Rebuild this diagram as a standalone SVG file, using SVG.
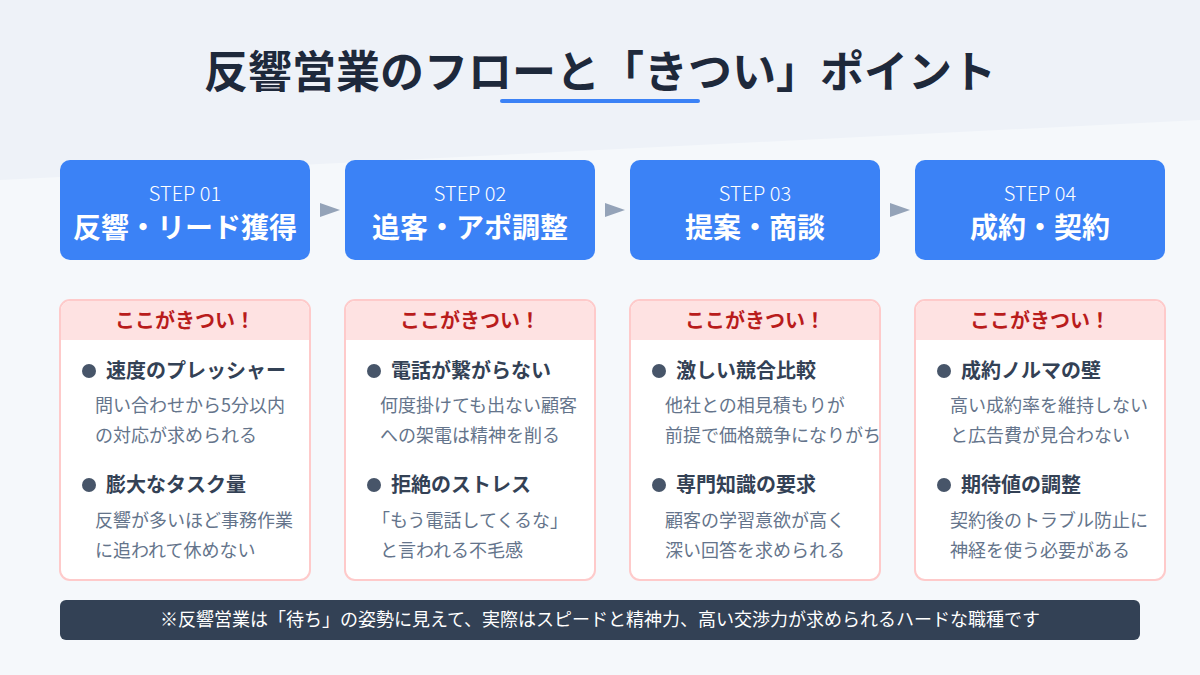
<svg xmlns="http://www.w3.org/2000/svg" width="1200" height="675" viewBox="0 0 1200 675">
<defs>
<style>
text{font-family:"Noto Sans CJK JP","Noto Sans",sans-serif}
.step{fill:#3b82f6}
.sl{fill:#fff;font-size:20px;font-weight:300;text-anchor:middle}
.st{fill:#fff;font-size:28px;font-weight:700;text-anchor:middle}
.card{fill:#fff;stroke:#fecaca;stroke-width:2}
.hd{fill:#fee2e2}
.ht{fill:#b91c1c;font-size:20px;font-weight:700;text-anchor:middle}
.bt{fill:#334155;font-size:20px;font-weight:700}
.bd{fill:#475569}
.tx{fill:#64748b;font-size:18px}
.arr{fill:#94a3b8}
</style>
</defs>
<rect width="1200" height="675" fill="#f5f8fb"/>
<polygon points="0,0 1200,0 1200,120 0,180" fill="#eef2f8"/>
<text x="600" y="88" text-anchor="middle" font-size="44" font-weight="700" fill="#1e293b">反響営業のフローと「きつい」ポイント</text>
<rect x="500" y="99" width="200" height="4" rx="2" fill="#3b82f6"/>
<g id="connectors">
<polygon class="arr" points="320,203 340,210 320,217"/>
<polygon class="arr" points="605,203 625,210 605,217"/>
<polygon class="arr" points="890,203 910,210 890,217"/>
</g>
<g id="step1"><rect class="step" x="60" y="160" width="250" height="100" rx="10"/><text class="sl" x="185" y="201">STEP 01</text><text class="st" x="185" y="238">反響・リード獲得</text></g>
<g id="step2"><rect class="step" x="345" y="160" width="250" height="100" rx="10"/><text class="sl" x="470" y="201">STEP 02</text><text class="st" x="470" y="238">追客・アポ調整</text></g>
<g id="step3"><rect class="step" x="630" y="160" width="250" height="100" rx="10"/><text class="sl" x="755" y="201">STEP 03</text><text class="st" x="755" y="238">提案・商談</text></g>
<g id="step4"><rect class="step" x="915" y="160" width="250" height="100" rx="10"/><text class="sl" x="1040" y="201">STEP 04</text><text class="st" x="1040" y="238">成約・契約</text></g>

<g id="card1"><rect class="card" x="60" y="300" width="250" height="280" rx="10"/><path class="hd" d="M61,340 V310 a9,9 0 0 1 9,-9 H300 a9,9 0 0 1 9,9 V340 Z"/><text class="ht" x="185" y="328">ここがきつい！</text>
<circle class="bd" cx="89" cy="371" r="7"/><text class="bt" x="106" y="378">速度のプレッシャー</text>
<text class="tx" x="95" y="412">問い合わせから5分以内</text><text class="tx" x="95" y="442">の対応が求められる</text>
<circle class="bd" cx="89" cy="485" r="7"/><text class="bt" x="106" y="492">膨大なタスク量</text>
<text class="tx" x="95" y="527">反響が多いほど事務作業</text><text class="tx" x="95" y="557">に追われて休めない</text></g>

<g id="card2"><rect class="card" x="345" y="300" width="250" height="280" rx="10"/><path class="hd" d="M346,340 V310 a9,9 0 0 1 9,-9 H585 a9,9 0 0 1 9,9 V340 Z"/><text class="ht" x="470" y="328">ここがきつい！</text>
<circle class="bd" cx="374" cy="371" r="7"/><text class="bt" x="391" y="378">電話が繋がらない</text>
<text class="tx" x="380" y="412">何度掛けても出ない顧客</text><text class="tx" x="380" y="442">への架電は精神を削る</text>
<circle class="bd" cx="374" cy="485" r="7"/><text class="bt" x="391" y="492">拒絶のストレス</text>
<text class="tx" x="372" y="527">「もう電話してくるな」</text><text class="tx" x="380" y="557">と言われる不毛感</text></g>

<g id="card3"><rect class="card" x="630" y="300" width="250" height="280" rx="10"/><path class="hd" d="M631,340 V310 a9,9 0 0 1 9,-9 H870 a9,9 0 0 1 9,9 V340 Z"/><text class="ht" x="755" y="328">ここがきつい！</text>
<circle class="bd" cx="659" cy="371" r="7"/><text class="bt" x="676" y="378">激しい競合比較</text>
<text class="tx" x="665" y="412">他社との相見積もりが</text><text class="tx" x="665" y="442">前提で価格競争になりがち</text>
<circle class="bd" cx="659" cy="485" r="7"/><text class="bt" x="676" y="492">専門知識の要求</text>
<text class="tx" x="665" y="527">顧客の学習意欲が高く</text><text class="tx" x="665" y="557">深い回答を求められる</text></g>

<g id="card4"><rect class="card" x="915" y="300" width="250" height="280" rx="10"/><path class="hd" d="M916,340 V310 a9,9 0 0 1 9,-9 H1155 a9,9 0 0 1 9,9 V340 Z"/><text class="ht" x="1040" y="328">ここがきつい！</text>
<circle class="bd" cx="944" cy="371" r="7"/><text class="bt" x="961" y="378">成約ノルマの壁</text>
<text class="tx" x="950" y="412">高い成約率を維持しない</text><text class="tx" x="950" y="442">と広告費が見合わない</text>
<circle class="bd" cx="944" cy="485" r="7"/><text class="bt" x="961" y="492">期待値の調整</text>
<text class="tx" x="950" y="527">契約後のトラブル防止に</text><text class="tx" x="950" y="557">神経を使う必要がある</text></g>

<g id="footer"><rect x="60" y="600" width="1080" height="40" rx="6" fill="#334155"/><text x="600" y="626" text-anchor="middle" font-size="18" fill="#fff">※反響営業は「待ち」の姿勢に見えて、実際はスピードと精神力、高い交渉力が求められるハードな職種です</text></g>
</svg>
